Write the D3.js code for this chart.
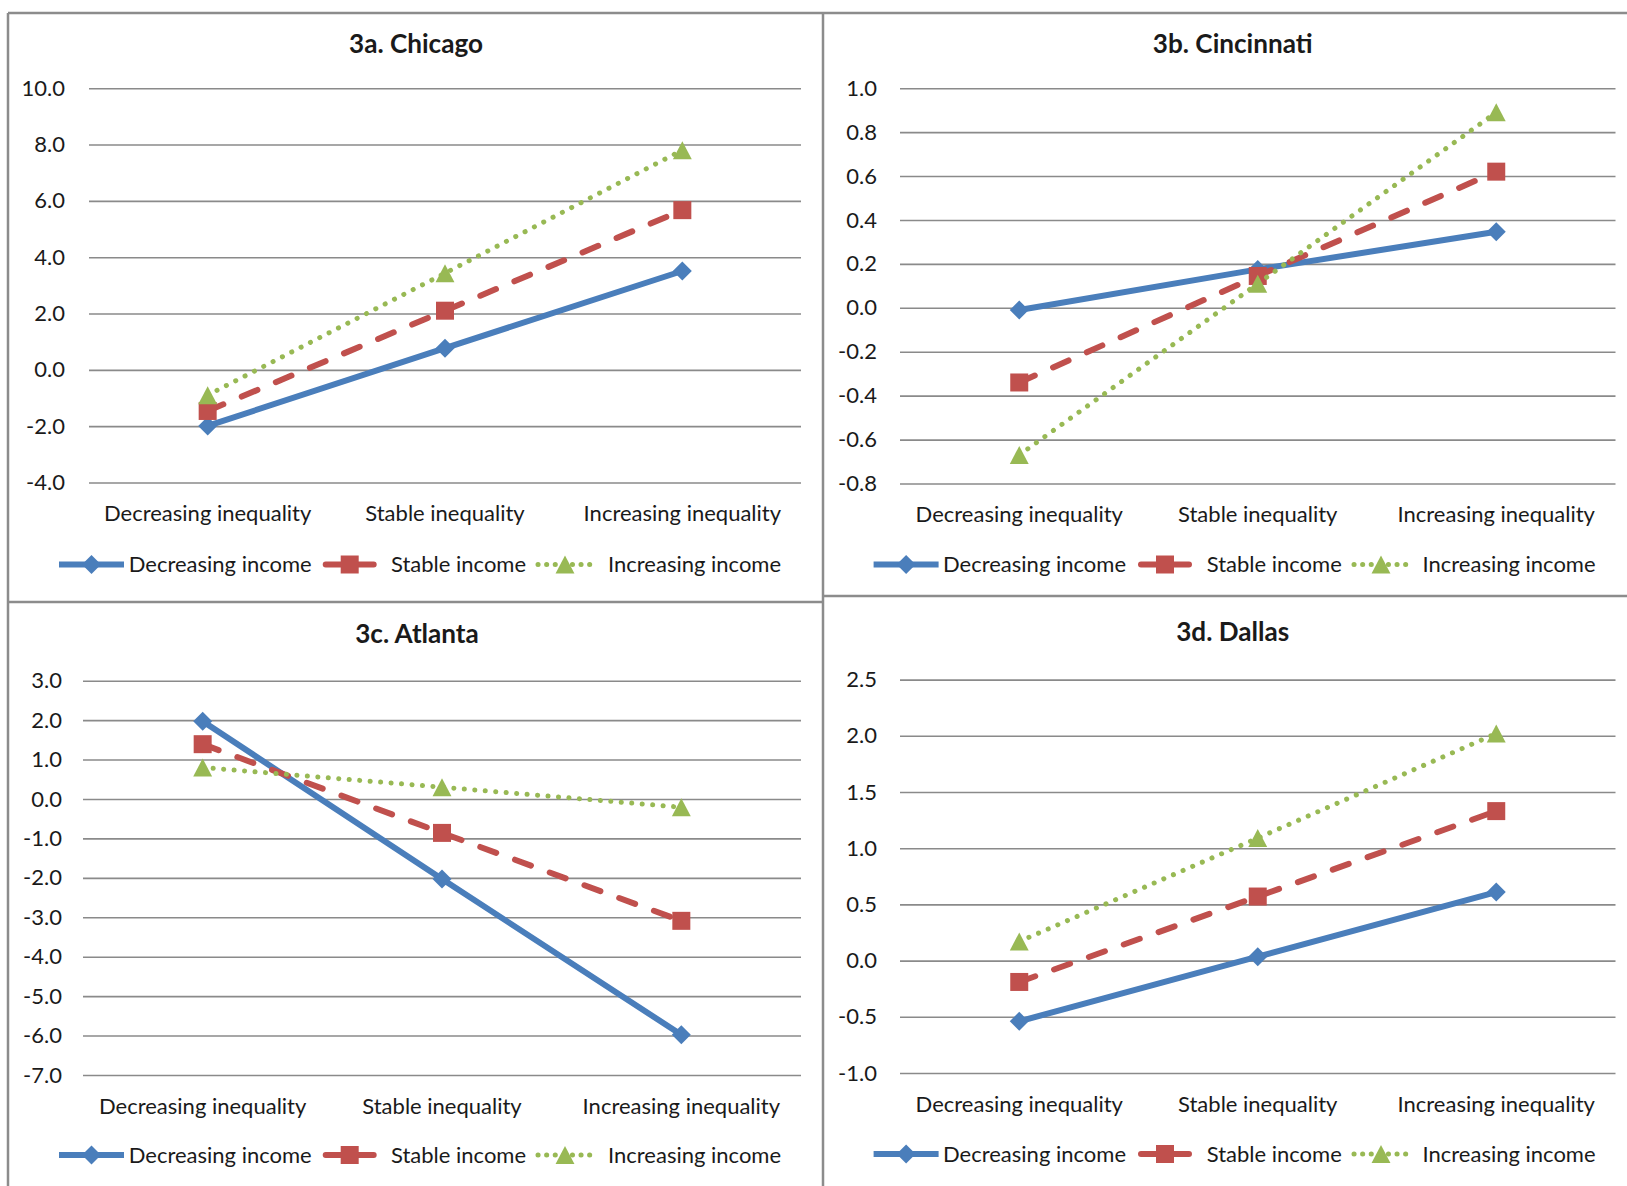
<!DOCTYPE html>
<html>
<head>
<meta charset="utf-8">
<script src="https://cdn.jsdelivr.net/npm/d3@7"></script>
<style>
  html, body { margin: 0; padding: 0; background: #fff; }
  svg { display: block; }
</style>
</head>
<body>
<svg id="chart" width="1627" height="1186"></svg>
<script>
// ---------------- DATA ----------------
const categories = ["Decreasing inequality", "Stable inequality", "Increasing inequality"];
const seriesNames = ["Decreasing income", "Stable income", "Increasing income"];

const chicagoDecreasing = [-1.99, 0.77, 3.51];
const chicagoStable     = [-1.46, 2.10, 5.67];
const chicagoIncreasing = [-0.90, 3.43, 7.80];
const chicagoTicks = [-4, -2, 0, 2, 4, 6, 8, 10];

const cincinnatiDecreasing = [-0.01, 0.175, 0.346];
const cincinnatiStable     = [-0.34, 0.145, 0.62];
const cincinnatiIncreasing = [-0.67, 0.11, 0.89];
const cincinnatiTicks = [-0.8, -0.6, -0.4, -0.2, 0.0, 0.2, 0.4, 0.6, 0.8, 1.0];

const atlantaDecreasing = [1.97, -2.03, -5.98];
const atlantaStable     = [1.39, -0.86, -3.09];
const atlantaIncreasing = [0.80, 0.30, -0.21];
const atlantaTicks = [-7, -6, -5, -4, -3, -2, -1, 0, 1, 2, 3];

const dallasDecreasing = [-0.54, 0.035, 0.61];
const dallasStable     = [-0.19, 0.57, 1.33];
const dallasIncreasing = [0.17, 1.09, 2.02];
const dallasTicks = [-1.0, -0.5, 0.0, 0.5, 1.0, 1.5, 2.0, 2.5];

const panelTitles = ["3a. Chicago", "3b. Cincinnati", "3c. Atlanta", "3d. Dallas"];

// ---------------- STYLE / LAYOUT ----------------
const FONT = "Lato, 'Open Sans', 'Liberation Sans', sans-serif";
const TEXT_COLOR = "#1a1a1a";
const GRID_COLOR = "#8a8a8a";
const BORDER_COLOR = "#8c8c8c";
const seriesStyle = [
  { color: "#4a7ebb", width: 6, dash: null, cap: "round", marker: "diamond", legendLen: 65, legendDash: null },
  { color: "#c0504d", width: 6, dash: "17,20", cap: "round", marker: "square", legendLen: 54, legendDash: "16,16" },
  { color: "#98b954", width: 5, dash: "0.1,10.4", cap: "round", marker: "triangle", legendLen: 60, legendDash: "0.1,8.5" }
];

const layouts = [
  { left: 89, right: 801, top: 88.2, bottom: 482.5, pad: 24, titleX: 416, titleY: 43.6,
    legendY: 564.5, legendLineX: [59, 322.7, 535], legendTextX: [128.7, 391, 608] },
  { left: 900, right: 1615.5, top: 88.2, bottom: 483.5, pad: 23, titleX: 1232.7, titleY: 43.6,
    legendY: 564.5, legendLineX: [873.6, 1138, 1351], legendTextX: [943, 1206.7, 1422.5] },
  { left: 83, right: 801, top: 680.7, bottom: 1075, pad: 21, titleX: 417, titleY: 634,
    legendY: 1155, legendLineX: [59, 322.7, 535], legendTextX: [128.7, 391, 608] },
  { left: 900, right: 1615.5, top: 679.6, bottom: 1073, pad: 23, titleX: 1232.7, titleY: 632,
    legendY: 1154, legendLineX: [873.6, 1138, 1351], legendTextX: [943, 1206.7, 1422.5] }
];

const panelsData = [
  { series: [chicagoDecreasing, chicagoStable, chicagoIncreasing], ticks: chicagoTicks },
  { series: [cincinnatiDecreasing, cincinnatiStable, cincinnatiIncreasing], ticks: cincinnatiTicks },
  { series: [atlantaDecreasing, atlantaStable, atlantaIncreasing], ticks: atlantaTicks },
  { series: [dallasDecreasing, dallasStable, dallasIncreasing], ticks: dallasTicks }
];

// ---------------- DRAW ----------------
const svg = d3.select("#chart");
svg.append("rect").attr("width", 1627).attr("height", 1186).attr("fill", "#fff");

function fitSize(text, weight, target) {
  const t = svg.append("text").attr("font-family", FONT).attr("font-weight", weight)
    .attr("font-size", 100).text(text);
  const w = t.node().getComputedTextLength();
  t.remove();
  return 100 * target / w;
}
const labelSize = fitSize("Decreasing inequality", "normal", 207.5);
const titleSize = fitSize("3a. Chicago", "bold", 134);

// custom marker shapes
const diamondType = { draw(ctx, size) { const r = Math.sqrt(size) / 2;
  ctx.moveTo(0, -r); ctx.lineTo(r, 0); ctx.lineTo(0, r); ctx.lineTo(-r, 0); ctx.closePath(); } };
const squareType = { draw(ctx, size) { const r = Math.sqrt(size) / 2;
  ctx.rect(-r, -r, 2 * r, 2 * r); } };
const triangleType = { draw(ctx, size) { const r = Math.sqrt(size) / 2;
  ctx.moveTo(0, -r); ctx.lineTo(r * 1.05, r); ctx.lineTo(-r * 1.05, r); ctx.closePath(); } };
const markerTypes = { diamond: diamondType, square: squareType, triangle: triangleType };
const markerSizes = { diamond: 19 * 19, square: 18 * 18, triangle: 18 * 18 };

// panel borders
const borders = svg.append("g").attr("stroke", BORDER_COLOR).attr("stroke-width", 2.5).attr("fill", "none");
borders.append("line").attr("x1", 8).attr("y1", 13).attr("x2", 8).attr("y2", 1186);
borders.append("line").attr("x1", 8).attr("y1", 13).attr("x2", 1627).attr("y2", 13);
borders.append("line").attr("x1", 823).attr("y1", 13).attr("x2", 823).attr("y2", 1186);
borders.append("line").attr("x1", 8).attr("y1", 602).attr("x2", 823).attr("y2", 602);
borders.append("line").attr("x1", 823).attr("y1", 596).attr("x2", 1627).attr("y2", 596);

panelsData.forEach((pd, i) => {
  const L = layouts[i];
  const g = svg.append("g");
  const yExt = d3.extent(pd.ticks);
  const y = d3.scaleLinear().domain(yExt).range([L.bottom, L.top]);
  const x = d3.scaleBand().domain(categories).range([L.left, L.right]);
  const xc = c => x(c) + x.bandwidth() / 2;

  // title
  g.append("text").attr("x", L.titleX).attr("y", L.titleY).attr("dy", "0.35em")
    .attr("text-anchor", "middle").attr("font-family", FONT).attr("font-weight", "bold")
    .attr("font-size", titleSize).attr("fill", TEXT_COLOR).text(panelTitles[i]);

  // y axis with gridlines
  const yAxis = d3.axisLeft(y).tickValues(pd.ticks).tickFormat(d => d.toFixed(1))
    .tickSize(-(L.right - L.left)).tickPadding(L.pad);
  const ya = g.append("g").attr("transform", `translate(${L.left},0)`).call(yAxis);
  ya.select(".domain").remove();
  ya.selectAll(".tick line").attr("stroke", GRID_COLOR).attr("stroke-width", 1.6);
  ya.selectAll(".tick text").attr("font-family", FONT).attr("font-size", labelSize)
    .attr("fill", TEXT_COLOR);

  // x axis labels
  const xAxis = d3.axisBottom(x).tickSize(0).tickPadding(0);
  const xa = g.append("g").attr("transform", `translate(0,${L.bottom})`).call(xAxis);
  xa.select(".domain").remove();
  xa.selectAll(".tick text").attr("y", 31).attr("dy", "0.35em").attr("font-family", FONT)
    .attr("font-size", labelSize).attr("fill", TEXT_COLOR);

  // series
  const line = d3.line().x(d => xc(d.c)).y(d => y(d.v));
  pd.series.forEach((vals, s) => {
    const st = seriesStyle[s];
    const pts = vals.map((v, k) => ({ c: categories[k], v }));
    g.append("path").datum(pts).attr("d", line).attr("fill", "none")
      .attr("stroke", st.color).attr("stroke-width", st.width)
      .attr("stroke-linecap", st.cap).attr("stroke-linejoin", "round")
      .attr("stroke-dasharray", st.dash);
    const sym = d3.symbol().type(markerTypes[st.marker]).size(markerSizes[st.marker]);
    g.selectAll(null).data(pts).enter().append("path")
      .attr("transform", d => `translate(${xc(d.c)},${y(d.v)})`)
      .attr("d", sym).attr("fill", st.color);
  });

  // legend
  seriesNames.forEach((name, s) => {
    const st = seriesStyle[s];
    const x0 = L.legendLineX[s], x1 = x0 + st.legendLen, cy = L.legendY;
    g.append("line").attr("x1", x0 + (st.legendDash ? 3 : 0)).attr("x2", x1 - (st.legendDash ? 3 : 0))
      .attr("y1", cy).attr("y2", cy)
      .attr("stroke", st.color).attr("stroke-width", st.width)
      .attr("stroke-linecap", st.legendDash ? "round" : "butt")
      .attr("stroke-dasharray", st.legendDash);
    const sym = d3.symbol().type(markerTypes[st.marker]).size(markerSizes[st.marker]);
    g.append("path").attr("transform", `translate(${(x0 + x1) / 2},${cy})`).attr("d", sym)
      .attr("fill", st.color);
    g.append("text").attr("x", L.legendTextX[s]).attr("y", cy).attr("dy", "0.35em")
      .attr("font-family", FONT).attr("font-size", labelSize).attr("fill", TEXT_COLOR).text(name);
  });
});
</script>
</body>
</html>
